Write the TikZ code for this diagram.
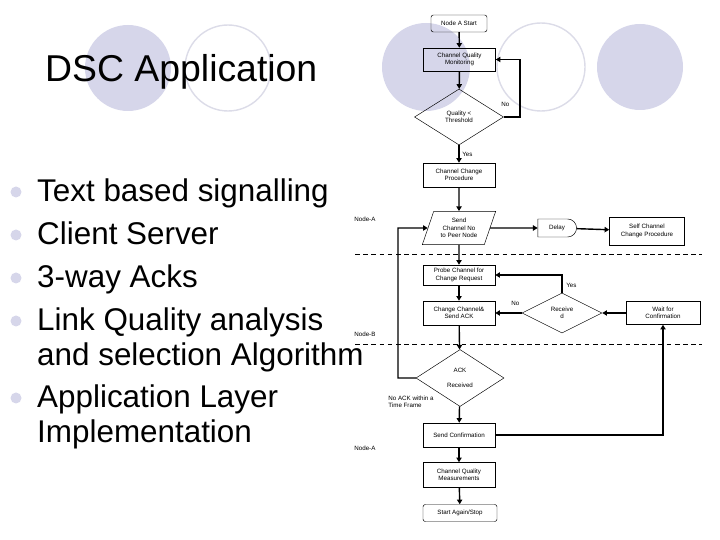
\documentclass[tikz,border=0pt]{standalone}
\usepackage{fontspec}
\setmainfont{Liberation Sans}
\usetikzlibrary{shapes.geometric,shapes.misc,arrows.meta}
\definecolor{lav}{RGB}{214,214,234}
\definecolor{lavline}{RGB}{220,220,232}
\tikzset{
  flow/.style={font=\fontsize{5.3}{6.2}\selectfont,align=center,inner sep=1pt},
  box/.style={flow,draw,thin,minimum width=2.16cm,minimum height=0.72cm},
  term/.style={flow,draw,thin,rounded corners=2pt,minimum height=0.51cm},
  dec/.style={flow,draw,thin,diamond,aspect=1.6},
  io/.style={flow,draw,thin,trapezium,trapezium left angle=62,trapezium right angle=118,trapezium stretches body,minimum width=2.2cm,minimum height=1.0cm},
  dly/.style={flow,draw,thin,rounded rectangle,rounded rectangle left arc=none,minimum width=1.23cm,minimum height=0.54cm},
  lbl/.style={font=\fontsize{5.3}{6.2}\selectfont,inner sep=1pt},
  flw/.style={line width=1.2pt,-{Triangle[length=4pt,width=4.5pt]}},
  sep/.style={dashed,thin,dash pattern=on 4pt off 3pt},
  bul/.style={font=\fontsize{26.8}{30}\selectfont,anchor=base west,inner sep=0pt}
}
\begin{document}
\begin{tikzpicture}[x=0.03cm,y=-0.03cm]
  \useasboundingbox (0,0) rectangle (720,540);
  % Background circles
  \fill[lav](128,68)circle(43);
  \draw[lavline,line width=1.2pt](228,68)circle(43);
  \fill[lav](426,67)circle(44);
  \draw[lavline,line width=1.2pt](541,67)circle(44);
  \fill[lav](640,67)circle(43);
  % Title and bullets
  \node[font=\fontsize{31.9}{34}\selectfont,anchor=base west,inner sep=0pt] (title) at (45,82) {DSC Application};
  \foreach \yy/\txt [count=\i] in {202/Text based signalling,245/Client Server,288/3-way Acks,331/Link Quality analysis,366/and selection Algorithm,408/Application Layer,442/Implementation}{
    \node[bul] (b\i) at (37,\yy) {\txt};
  }
  \foreach \yy in {192,235,278,321,398}{
    \fill[lav](16,\yy)circle(5.5);
  }
  % Flowchart
  \node[term,minimum width=1.68cm] (start) at (459,23.5) {Node A Start};
  \node[box,minimum height=0.69cm] (mon) at (459.5,59.5) {Channel Quality\\Monitoring};
  \node[dec,minimum width=2.67cm,minimum height=1.68cm] (qual) at (459,117) {Quality \textless\\Threshold};
  \node[box] (chg) at (459,175) {Channel Change\\Procedure};
  \node[io] (send) at (459,228) {Send\\Channel No\\to Peer Node};
  \node[dly] (delay) at (557,228) {Delay};
  \node[box,minimum width=2.25cm,minimum height=0.84cm] (self) at (647,231) {Self Channel\\Change Procedure};
  \node[box,minimum height=0.6cm] (probe) at (459,275) {Probe Channel for\\Change Request};
  \node[box] (cse) at (459,313) {Change Channel\&\\Send ACK};
  \node[dec,minimum width=2.4cm,minimum height=1.2cm] (recv) at (562,313) {Receive\\d};
  \node[box,minimum width=2.22cm,minimum height=0.69cm] (wait) at (663,313) {Wait for\\Confirmation};
  \node[dec,minimum width=2.64cm,minimum height=1.71cm] (ack) at (460,378) {ACK\\[6pt]Received};
  \node[box,minimum height=0.72cm] (conf) at (459,435) {Send Confirmation};
  \node[box,minimum height=0.75cm] (meas) at (459,475) {Channel Quality\\Measurements};
  \node[term,minimum width=2.22cm] (stop) at (460,513) {Start Again/Stop};
  % Labels
  \node[lbl,anchor=west] (no1) at (500,104) {No};
  \node[lbl,anchor=west] (yes1) at (461,154) {Yes};
  \node[lbl,anchor=west] (yes2) at (565,285) {Yes};
  \node[lbl,anchor=west] (no2) at (510,303) {No};
  \node[lbl,anchor=west,align=left] (noack) at (387,402) {No ACK within a\\Time Frame};
  \node[lbl,anchor=west] (na1) at (353,219) {Node-A};
  \node[lbl,anchor=west] (nb) at (353,334) {Node-B};
  \node[lbl,anchor=west] (na2) at (353,448) {Node-A};
  % Separators
  \draw[sep](355,254)--(702,254);
  \draw[sep](355,344)--(702,344);
  % Connectors
  \draw[flw](start)--(mon);
  \draw[flw](mon)--(qual);
  \draw[flw](qual.east)-|(520,59.5)--(mon.east);
  \draw[flw](qual)--(chg);
  \draw[flw](chg)--(send);
  \draw[flw](send.east)--(delay);
  \draw[flw](delay)--(self);
  \draw[flw](send)--(probe);
  \draw[flw](probe)--(cse);
  \draw[flw](recv.north)|-(probe.east);
  \draw[flw](recv)--(cse);
  \draw[flw](wait)--(recv);
  \draw[flw](cse)--(ack);
  \draw[flw](ack.west)-|(398,228)--(send.west);
  \draw[flw](ack)--(conf);
  \draw[flw](conf.east)-|(wait.south);
  \draw[flw](conf)--(meas);
  \draw[flw](meas)--(stop);
\end{tikzpicture}
\end{document}
